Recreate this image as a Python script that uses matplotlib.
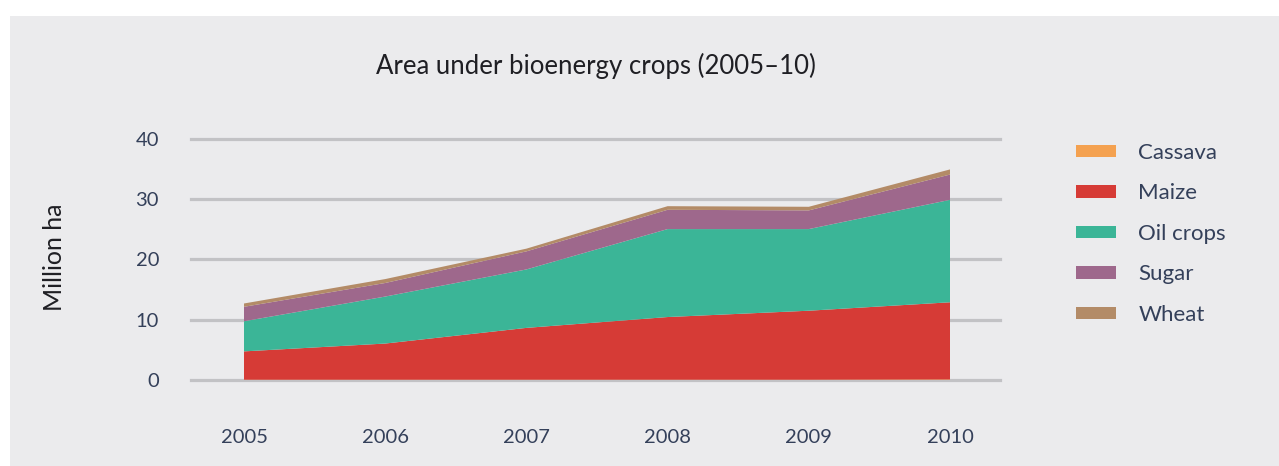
import matplotlib
matplotlib.use('Agg')
import matplotlib.pyplot as plt
from matplotlib.patches import Patch, Rectangle

years = [2005, 2006, 2007, 2008, 2009, 2010]
crops = ['Cassava', 'Maize', 'Oil crops', 'Sugar', 'Wheat']
cassava = [0.05, 0.05, 0.05, 0.05, 0.05, 0.1]
maize = [4.7, 6.0, 8.6, 10.4, 11.45, 12.8]
oil_crops = [5.0, 7.8, 9.7, 14.6, 13.55, 17.0]
sugar = [2.4, 2.25, 3.0, 3.2, 3.1, 4.2]
wheat = [0.55, 0.65, 0.45, 0.6, 0.6, 0.85]
y_ticks = [0, 10, 20, 30, 40]

colors = ['#f4a150', '#d63b36', '#3bb597', '#9e688c', '#b38b67']
bg = '#ebebed'
text_col = '#34405a'

plt.rcParams['font.family'] = ['Lato', 'DejaVu Sans']

W, H = 1279, 466
fig = plt.figure(figsize=(W / 100, H / 100), dpi=100)
fig.patch.set_facecolor('white')
# grey panel behind everything
fig.add_artist(Rectangle((10 / W, 0), 1, 1 - 16 / H, transform=fig.transFigure,
                         facecolor=bg, edgecolor='none', zorder=-10))

ax = fig.add_axes([191 / W, 86 / H, 809 / W, 241 / H])
ax.set_facecolor('none')
ax.stackplot(years, cassava, maize, oil_crops, sugar, wheat,
             colors=colors, linewidth=0, zorder=3)

ax.set_xlim(2005 - 53 / 141.2, 2010 + 50 / 141.2)
ax.set_ylim(0, 40)
for v in y_ticks:
    ax.axhline(v, color='#c2c2c5', lw=2.3, zorder=1, clip_on=False)
for s in ax.spines.values():
    s.set_visible(False)

ax.set_yticks(y_ticks)
ax.set_xticks(years)
ax.tick_params(length=0, labelsize=14.5, colors=text_col)
ax.tick_params(axis='y', pad=23)
ax.tick_params(axis='x', pad=35)

fig.text(55 / W, 1 - 257 / H, 'Million ha', rotation=90, ha='center', va='center',
         fontsize=18, color='#1f1f24')
fig.text(596 / W, 1 - 66 / H, 'Area under bioenergy crops (2005\u201310)',
         ha='center', va='center', fontsize=18.5, color='#1f1f24')

handles = [Patch(facecolor=c, edgecolor='none') for c in colors]
leg = fig.legend(handles, crops, loc='upper left', bbox_to_anchor=(1056 / W, 1 - 123 / H),
                 frameon=False, fontsize=16, handlelength=1.8, handleheight=0.5,
                 handletextpad=1.0, labelspacing=0.92, labelcolor=text_col)

fig.savefig('out.png', dpi=100, facecolor=fig.get_facecolor())
